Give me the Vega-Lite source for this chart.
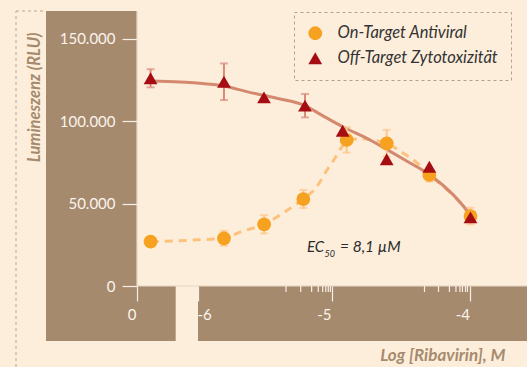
{
  "$schema": "https://vega.github.io/schema/vega-lite/v6.json",
  "width": 481,
  "height": 330,
  "autosize": {"type": "none"},
  "padding": {"left": 46, "top": 11, "right": 0, "bottom": 26},
  "background": "#fdeedb",
  "config": {"view": {"stroke": null}, "font": "Lato"},
  "datasets": {
    "points": [
      {"series": "On-Target Antiviral", "logc": -6.31, "value": 26900, "err": 0},
      {"series": "On-Target Antiviral", "logc": -5.78, "value": 28900, "err": 4500},
      {"series": "On-Target Antiviral", "logc": -5.49, "value": 37400, "err": 5500},
      {"series": "On-Target Antiviral", "logc": -5.207, "value": 52700, "err": 5500},
      {"series": "On-Target Antiviral", "logc": -4.894, "value": 88500, "err": 7700},
      {"series": "On-Target Antiviral", "logc": -4.605, "value": 86500, "err": 8100},
      {"series": "On-Target Antiviral", "logc": -4.297, "value": 67300, "err": 4000},
      {"series": "On-Target Antiviral", "logc": -4.0, "value": 42400, "err": 5000},
      {"series": "Off-Target Zytotoxizität", "logc": -6.31, "value": 125900, "err": 5500},
      {"series": "Off-Target Zytotoxizität", "logc": -5.78, "value": 123800, "err": 11100},
      {"series": "Off-Target Zytotoxizität", "logc": -5.491, "value": 114300, "err": 0},
      {"series": "Off-Target Zytotoxizität", "logc": -5.195, "value": 109300, "err": 7100},
      {"series": "Off-Target Zytotoxizität", "logc": -4.923, "value": 94100, "err": 0},
      {"series": "Off-Target Zytotoxizität", "logc": -4.605, "value": 76800, "err": 0},
      {"series": "Off-Target Zytotoxizität", "logc": -4.297, "value": 72300, "err": 0},
      {"series": "Off-Target Zytotoxizität", "logc": -4.0, "value": 41600, "err": 0}
    ],
    "fitTox": [
      {"logc": -6.314, "value": 124200},
      {"logc": -6.097, "value": 123600},
      {"logc": -5.977, "value": 123000},
      {"logc": -5.78, "value": 121200},
      {"logc": -5.616, "value": 117800},
      {"logc": -5.399, "value": 113800},
      {"logc": -5.195, "value": 109300},
      {"logc": -5.087, "value": 104200},
      {"logc": -4.923, "value": 96500},
      {"logc": -4.726, "value": 88500},
      {"logc": -4.605, "value": 82800},
      {"logc": -4.461, "value": 75800},
      {"logc": -4.292, "value": 67300},
      {"logc": -4.124, "value": 55200},
      {"logc": -3.998, "value": 43000}
    ],
    "fitAnti": [
      {"logc": -6.309, "value": 26800},
      {"logc": -6.134, "value": 27300},
      {"logc": -5.917, "value": 28200},
      {"logc": -5.78, "value": 28800},
      {"logc": -5.664, "value": 32700},
      {"logc": -5.491, "value": 37400},
      {"logc": -5.375, "value": 43000},
      {"logc": -5.289, "value": 47900},
      {"logc": -5.207, "value": 52700},
      {"logc": -5.11, "value": 60200},
      {"logc": -5.036, "value": 70300},
      {"logc": -4.978, "value": 77600},
      {"logc": -4.918, "value": 85500},
      {"logc": -4.87, "value": 88800},
      {"logc": -4.783, "value": 89200},
      {"logc": -4.69, "value": 88200},
      {"logc": -4.605, "value": 86500},
      {"logc": -4.487, "value": 80600},
      {"logc": -4.388, "value": 74800},
      {"logc": -4.297, "value": 67300},
      {"logc": -4.199, "value": 60600},
      {"logc": -4.105, "value": 53300},
      {"logc": -3.999, "value": 42400}
    ],
    "minorTicks": [
      {"logc": -5.332}, {"logc": -5.226}, {"logc": -5.147}, {"logc": -5.099},
      {"logc": -5.067}, {"logc": -5.045}, {"logc": -5.027}, {"logc": -5.012},
      {"logc": -4.332}, {"logc": -4.231}, {"logc": -4.152}, {"logc": -4.105},
      {"logc": -4.076}, {"logc": -4.058}, {"logc": -4.036}, {"logc": -4.022}
    ]
  },
  "layer": [
    {
      "data": {"values": [{}]},
      "mark": {"type": "rect", "color": "#a68a6e"},
      "encoding": {
        "x": {"datum": -7.065, "type": "quantitative", "scale": {"domain": [-7.065, -3.592], "nice": false, "zero": false}},
        "x2": {"datum": -6.408},
        "y": {"datum": -33333, "type": "quantitative", "scale": {"domain": [-33333, 166667], "nice": false, "zero": false}},
        "y2": {"datum": 166667}
      }
    },
    {
      "data": {"values": [{}]},
      "mark": {"type": "rect", "color": "#a68a6e"},
      "encoding": {
        "x": {"datum": -6.408, "type": "quantitative"},
        "x2": {"datum": -6.1285},
        "y": {"datum": -33333, "type": "quantitative"},
        "y2": {"datum": 0}
      }
    },
    {
      "data": {"values": [{}]},
      "mark": {"type": "rect", "color": "#a68a6e"},
      "encoding": {
        "x": {"datum": -5.9675, "type": "quantitative"},
        "x2": {"datum": -3.592},
        "y": {"datum": -33333, "type": "quantitative"},
        "y2": {"datum": 0}
      }
    },
    {
      "data": {"values": [{}]},
      "mark": {"type": "rule", "color": "#e6d6c6", "strokeWidth": 1.2},
      "encoding": {
        "x": {"datum": -6.408, "type": "quantitative"},
        "y": {"datum": 0, "type": "quantitative"},
        "y2": {"datum": 166667}
      }
    },
    {
      "data": {"values": [{}]},
      "mark": {"type": "rule", "color": "#e6d6c6", "strokeWidth": 1.2},
      "encoding": {
        "x": {"datum": -6.408, "type": "quantitative"},
        "x2": {"datum": -3.592},
        "y": {"datum": 0, "type": "quantitative"}
      }
    },
    {
      "data": {"name": "minorTicks"},
      "mark": {"type": "rule", "color": "#f6eee6", "strokeWidth": 1.2},
      "encoding": {
        "x": {"field": "logc", "type": "quantitative", "title": "Log [Ribavirin], M"},
        "y": {"datum": 0, "type": "quantitative"},
        "y2": {"datum": -3636}
      }
    },
    {
      "data": {"values": [{}]},
      "mark": {"type": "rule", "color": "#b8a693", "strokeWidth": 1, "strokeDash": [3, 3]},
      "encoding": {
        "x": {"datum": -7.2816, "type": "quantitative"},
        "y": {"datum": -49100, "type": "quantitative"},
        "y2": {"datum": 166667}
      }
    },
    {
      "data": {"values": [{}]},
      "mark": {"type": "rule", "color": "#b8a693", "strokeWidth": 1, "strokeDash": [3, 3]},
      "encoding": {
        "x": {"datum": -7.2816, "type": "quantitative"},
        "x2": {"datum": -7.065},
        "y": {"datum": 166667, "type": "quantitative"}
      }
    },
    {
      "data": {"name": "fitAnti"},
      "mark": {"type": "line", "color": "#fcc27c", "strokeWidth": 3, "strokeDash": [8, 6], "interpolate": "monotone"},
      "encoding": {
        "x": {"field": "logc", "type": "quantitative", "title": "Log [Ribavirin], M"},
        "y": {"field": "value", "type": "quantitative", "title": "Lumineszenz (RLU)"}
      }
    },
    {
      "data": {"name": "fitTox"},
      "mark": {"type": "line", "color": "#d4896f", "strokeWidth": 3, "interpolate": "monotone"},
      "encoding": {
        "x": {"field": "logc", "type": "quantitative", "title": "Log [Ribavirin], M"},
        "y": {"field": "value", "type": "quantitative", "title": "Lumineszenz (RLU)"}
      }
    },
    {
      "data": {"name": "points"},
      "transform": [{"filter": "datum.series == 'On-Target Antiviral' && datum.err > 0"}],
      "mark": {"type": "errorbar", "ticks": true, "color": "#fcc58a", "thickness": 2, "size": 8},
      "encoding": {
        "x": {"field": "logc", "type": "quantitative", "title": "Log [Ribavirin], M"},
        "y": {"field": "value", "type": "quantitative", "title": "Lumineszenz (RLU)"},
        "yError": {"field": "err"}
      }
    },
    {
      "data": {"name": "points"},
      "transform": [{"filter": "datum.series != 'On-Target Antiviral' && datum.err > 0"}],
      "mark": {"type": "errorbar", "ticks": true, "color": "#d98b7b", "thickness": 2, "size": 8},
      "encoding": {
        "x": {"field": "logc", "type": "quantitative", "title": "Log [Ribavirin], M"},
        "y": {"field": "value", "type": "quantitative", "title": "Lumineszenz (RLU)"},
        "yError": {"field": "err"}
      }
    },
    {
      "data": {"name": "points"},
      "mark": {"type": "point", "filled": true, "opacity": 1, "size": 190},
      "encoding": {
        "x": {
          "field": "logc", "type": "quantitative",
          "title": "Log [Ribavirin], M",
          "axis": {
            "zindex": 1,
            "offset": -55,
            "domain": false, "grid": false,
            "values": [-6.408, -5.9675, -5, -4],
            "labelExpr": "datum.value < -6.3 ? '0' : datum.value < -5.9 ? '-6' : datum.value == -5 ? '-5' : '-4'",
            "labelAlign": {"condition": {"test": "datum.value > -6 && datum.value < -5.9", "value": "left"}, "value": "right"},
            "labelBaseline": "top",
            "labelOverlap": false,
            "labelFlush": false,
            "labelPadding": 6,
            "labelOffset": -1,
            "labelFont": "Lato",
            "labelFontSize": 15,
            "labelColor": "#fbf4ec",
            "tickColor": "#f6eee6",
            "tickWidth": 1.2,
            "tickSize": 15,
            "titleFont": "Lato",
            "titleFontSize": 17,
            "titleFontStyle": "italic",
            "titleFontWeight": "bold",
            "titleColor": "#a68a6e",
            "titleAlign": "right",
            "titleBaseline": "alphabetic",
            "titleX": 459,
            "titleY": 74
          }
        },
        "y": {
          "field": "value", "type": "quantitative",
          "title": "Lumineszenz (RLU)",
          "axis": {
            "zindex": 1,
            "offset": -91,
            "domain": false, "grid": false,
            "values": [0, 50000, 100000, 150000],
            "labelExpr": "datum.value == 0 ? '0' : replace(format(datum.value, ','), ',', '.')",
            "labelPadding": 7,
            "labelFont": "Lato",
            "labelFontSize": 15,
            "labelColor": "#fbf4ec",
            "tickColor": "#f6eee6",
            "tickWidth": 1.2,
            "tickSize": 15,
            "titleFont": "Lato",
            "titleFontSize": 16.5,
            "titleFontStyle": "italic",
            "titleFontWeight": "bold",
            "titleColor": "#a68a6e",
            "titleAngle": -90,
            "titleAlign": "right",
            "titleBaseline": "alphabetic",
            "titleX": -97.5,
            "titleY": 21
          }
        },
        "color": {
          "field": "series", "type": "nominal",
          "scale": {"domain": ["On-Target Antiviral", "Off-Target Zytotoxizität"], "range": ["#f6a11f", "#a50d12"]},
          "legend": {
            "title": null, "orient": "none", "legendX": 248, "legendY": 1,
            "padding": 13, "rowPadding": 8, "symbolSize": 190, "symbolStrokeWidth": 0, "symbolOpacity": 1,
            "labelFont": "Lato", "labelFontSize": 16.5, "labelFontStyle": "italic", "labelColor": "#333333",
            "labelOffset": 14, "labelLimit": 300, "strokeColor": "#b3a18e",
            "encode": {"legend": {"update": {"strokeDash": {"value": [3, 3]}, "strokeWidth": {"value": 1}}}}
          }
        },
        "shape": {
          "field": "series", "type": "nominal",
          "scale": {"domain": ["On-Target Antiviral", "Off-Target Zytotoxizität"], "range": ["circle", "triangle-up"]},
          "legend": {
            "title": null, "orient": "none", "legendX": 248, "legendY": 1,
            "padding": 13, "rowPadding": 8, "symbolSize": 190, "symbolStrokeWidth": 0, "symbolOpacity": 1,
            "labelFont": "Lato", "labelFontSize": 16.5, "labelFontStyle": "italic", "labelColor": "#333333",
            "labelOffset": 14, "labelLimit": 300, "strokeColor": "#b3a18e",
            "encode": {"legend": {"update": {"strokeDash": {"value": [3, 3]}, "strokeWidth": {"value": 1}}}}
          }
        }
      }
    },
    {
      "data": {"values": [{}]},
      "mark": {"type": "text", "text": "EC", "align": "left", "baseline": "alphabetic", "font": "Lato", "fontSize": 15, "fontStyle": "italic", "color": "#2b2b2b"},
      "encoding": {
        "x": {"datum": -5.1805, "type": "quantitative"},
        "y": {"datum": 20424, "type": "quantitative"}
      }
    },
    {
      "data": {"values": [{}]},
      "mark": {"type": "text", "text": "50", "align": "left", "baseline": "alphabetic", "font": "Lato", "fontSize": 9, "fontStyle": "italic", "color": "#2b2b2b"},
      "encoding": {
        "x": {"datum": -5.054, "type": "quantitative"},
        "y": {"datum": 17576, "type": "quantitative"}
      }
    },
    {
      "data": {"values": [{}]},
      "mark": {"type": "text", "text": "= 8,1 µM", "align": "left", "baseline": "alphabetic", "font": "Lato", "fontSize": 15.5, "fontStyle": "italic", "color": "#2b2b2b"},
      "encoding": {
        "x": {"datum": -4.942, "type": "quantitative"},
        "y": {"datum": 20424, "type": "quantitative"}
      }
    }
  ]
}
